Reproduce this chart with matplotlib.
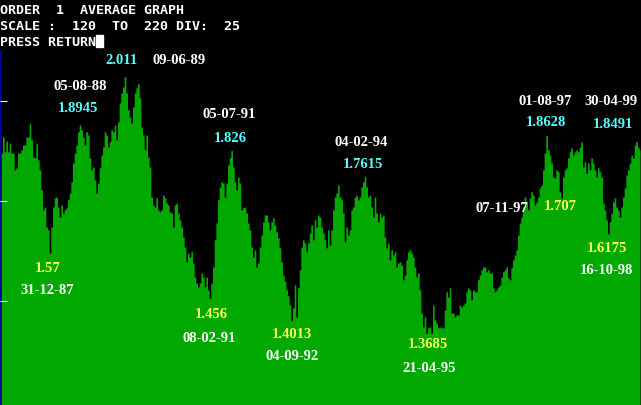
import numpy as np
import matplotlib
matplotlib.use('Agg')
import matplotlib.pyplot as plt
from matplotlib.patches import Rectangle

# weekly-ish average rate, one value every ~12 days from early 1987
rate = [
    1.820, 1.820, 1.860, 1.823, 1.850, 1.823, 1.845, 1.820, 1.820, 1.778,
    1.783, 1.820, 1.820, 1.828, 1.840, 1.840, 1.860, 1.860, 1.893, 1.853,
    1.810, 1.808, 1.843, 1.803, 1.778, 1.728, 1.678, 1.685, 1.635, 1.628,
    1.570, 1.635, 1.685, 1.708, 1.710, 1.685, 1.660, 1.690, 1.670, 1.678,
    1.683, 1.703, 1.720, 1.748, 1.795, 1.820, 1.840, 1.873, 1.890, 1.878,
    1.860, 1.840, 1.873, 1.865, 1.808, 1.778, 1.785, 1.753, 1.720, 1.745,
    1.783, 1.815, 1.835, 1.873, 1.865, 1.835, 1.848, 1.878, 1.873, 1.890,
    1.853, 1.898, 1.945, 1.970, 1.985, 2.011, 1.970, 1.928,
    1.910, 1.895, 1.935, 1.970, 1.983, 1.993, 1.958, 1.885, 1.865, 1.828,
    1.865, 1.810, 1.785, 1.710, 1.690, 1.685, 1.708, 1.678, 1.673, 1.678,
    1.715, 1.708, 1.695, 1.690, 1.673, 1.670, 1.635, 1.690, 1.695, 1.670,
    1.653, 1.635, 1.610, 1.585, 1.548, 1.570, 1.560, 1.573, 1.545, 1.510,
    1.495, 1.485, 1.495, 1.520, 1.510, 1.485, 1.510, 1.478, 1.456, 1.495,
    1.535, 1.603, 1.645, 1.703, 1.735, 1.748, 1.745, 1.710, 1.745, 1.790,
    1.808, 1.826, 1.785, 1.748, 1.728, 1.760, 1.745, 1.678, 1.683, 1.685,
    1.670, 1.645, 1.628, 1.585, 1.560, 1.578, 1.535,
    1.545, 1.585, 1.615, 1.648, 1.665, 1.665, 1.648, 1.628, 1.648, 1.658,
    1.640, 1.623, 1.608, 1.583, 1.548, 1.515, 1.500, 1.478, 1.463, 1.440,
    1.401, 1.433, 1.490, 1.410, 1.483, 1.528, 1.585, 1.603, 1.595, 1.573,
    1.595, 1.620, 1.640, 1.603, 1.653, 1.635, 1.665, 1.660, 1.635, 1.620,
    1.603, 1.583, 1.628, 1.590, 1.628, 1.678, 1.710, 1.720, 1.740, 1.710,
    1.703, 1.670, 1.598, 1.635, 1.615, 1.628, 1.678, 1.685, 1.710, 1.715,
    1.703, 1.710, 1.735, 1.748, 1.762, 1.735, 1.710, 1.715, 1.685, 1.660,
    1.710, 1.670, 1.648, 1.670, 1.660, 1.665, 1.610,
    1.583, 1.595, 1.553, 1.578, 1.565, 1.573, 1.535, 1.545, 1.548, 1.540,
    1.503, 1.515, 1.553, 1.573, 1.578, 1.570, 1.560, 1.535, 1.510, 1.520,
    1.478, 1.420, 1.385, 1.410, 1.369, 1.383, 1.385, 1.370, 1.440, 1.403,
    1.395, 1.383, 1.385, 1.383, 1.383, 1.428, 1.473, 1.460, 1.483, 1.420,
    1.420, 1.410, 1.415, 1.415, 1.440, 1.435, 1.440, 1.445, 1.473, 1.483,
    1.478, 1.453, 1.478, 1.473, 1.473, 1.503, 1.515, 1.528, 1.535, 1.535,
    1.523, 1.528, 1.520, 1.520, 1.483, 1.473, 1.478, 1.485, 1.490, 1.510,
    1.523, 1.528, 1.535, 1.508, 1.503, 1.533,
    1.553, 1.565, 1.578, 1.615, 1.645, 1.660, 1.685, 1.710, 1.698, 1.678,
    1.708, 1.723, 1.715, 1.690, 1.698, 1.710, 1.733, 1.740, 1.778, 1.820,
    1.863, 1.828, 1.815, 1.795, 1.760, 1.758, 1.778, 1.773, 1.723, 1.707,
    1.760, 1.778, 1.783, 1.808, 1.823, 1.833, 1.815, 1.823, 1.828, 1.823,
    1.835, 1.848, 1.785, 1.798, 1.770, 1.795, 1.778, 1.808, 1.795, 1.778,
    1.760, 1.783, 1.773, 1.760, 1.695, 1.678, 1.653, 1.618, 1.648, 1.670,
    1.698, 1.708, 1.685, 1.678, 1.660, 1.685, 1.710, 1.733, 1.765, 1.778,
    1.795, 1.815, 1.808, 1.840, 1.849, 1.835, 1.828,
]

# turning points marked on the chart
turn_dates = ["31-12-87", "05-08-88", "09-06-89", "08-02-91", "05-07-91", "04-09-92",
              "04-02-94", "21-04-95", "01-08-97", "07-11-97", "16-10-98", "30-04-99"]
turn_values = [1.57, 1.8945, 2.011, 1.456, 1.826, 1.4013,
               1.7615, 1.3685, 1.8628, 1.707, 1.6175, 1.8491]
turn_kind = ["low", "high", "high", "low", "high", "low",
             "high", "low", "high", "low", "low", "high"]

header = ["ORDER  1  AVERAGE GRAPH",
          "SCALE :  120  TO  220 DIV:  25",
          "PRESS RETURN"]

W, H = 641, 405
GREEN = '#00a800'
CYAN = '#55ffff'
YELLOW = '#ffff55'

# screen mapping: 52 px per year, 400 px per unit of rate
T0 = 1987.04
step = (5 / 3) / 52.0
t = T0 + np.arange(len(rate)) * step


def px(x, y):
    # pixel position (top-left origin) -> figure fraction
    return x / W, 1 - y / H


fig = plt.figure(figsize=(W / 100, H / 100), dpi=100)
fig.patch.set_facecolor('black')
ax = fig.add_axes([0, 0, 1, 1])
ax.set_facecolor('black')
ax.set_xlim(T0, T0 + W / 52.0)
ax.set_ylim(2.2025 - H / 400.0, 2.2025)
ax.axis('off')

ax.fill_between(t, rate, 1.18, step='mid', color=GREEN, lw=0)

# left axis line and scale ticks
ax.vlines(T0 + 0.6 / 52, 1.18, 2.0775, color='#0000aa', lw=1.3, zorder=3)
for v in [1.95, 1.70, 1.45]:
    ax.hlines(v, T0, T0 + 7 / 52.0, color='white', lw=0.8, zorder=3)

# header text in the terminal font
for i, line in enumerate(header):
    fig.text(*px(0, 13.5 + i * 16), line, color='white', family='DejaVu Sans Mono',
             fontsize=9.6, weight='bold', va='baseline', ha='left')
fig.patches.append(Rectangle(px(96, 47), 7 / W, 12 / H, transform=fig.transFigure,
                             color='white'))

# label positions in pixels: (date x, date y, value x, value y)
label_pos = [(47, 291, 48, 268), (80, 87, 78, 109), (179, 61, 122, 61),
             (209, 338, 211, 315), (229, 115, 230, 138), (292, 356, 292, 335),
             (361, 143, 363, 164), (429, 368, 428, 345), (545, 102, 546, 123),
             (502, 208, 560, 207), (606, 271, 607, 248), (611, 102, 613, 124)]

for d, v, k, (dx, dy, vx, vy) in zip(turn_dates, turn_values, turn_kind, label_pos):
    col = CYAN if k == "high" else YELLOW
    fig.text(*px(dx, dy), d, color='white', family='Liberation Serif', weight='bold',
             fontsize=10.5, ha='center', va='center')
    fig.text(*px(vx, vy), f"{v:g}", color=col, family='Liberation Serif', weight='bold',
             fontsize=10.5, ha='center', va='center')

plt.savefig('out.png', dpi=100, facecolor='black')
